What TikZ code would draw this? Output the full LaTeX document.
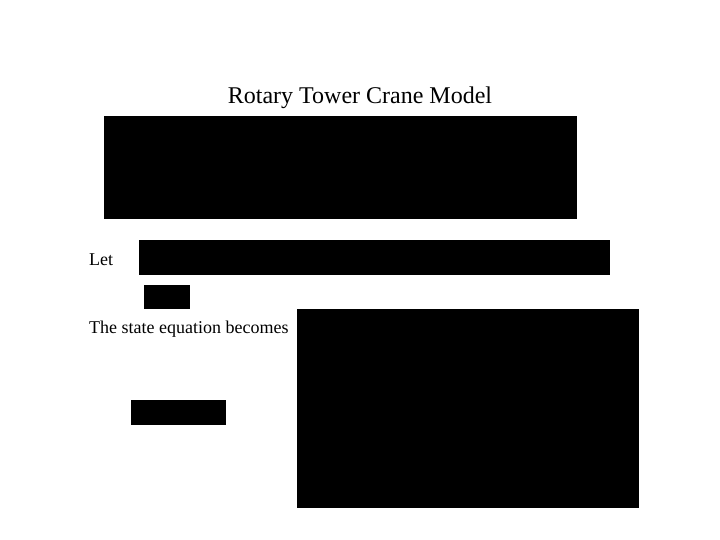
\documentclass[tikz,border=0pt]{standalone}
\usepackage{fontspec}
\setmainfont{Liberation Serif}
\begin{document}
\begin{tikzpicture}[x=1pt,y=-1pt,
  blk/.style={fill=black,draw=none},
  txt/.style={inner sep=0pt,anchor=base west,font=\fontsize{18}{20}\selectfont}]
\useasboundingbox (0,0) rectangle (720,540);
\node[inner sep=0pt,anchor=base,font=\fontsize{24}{26}\selectfont] (title) at (360,104) {Rotary Tower Crane Model};
\fill[blk] (104,116) rectangle (577,219);
\node[txt] (let) at (89,265) {Let};
\fill[blk] (139,240) rectangle (610,275);
\fill[blk] (144,285) rectangle (190,309);
\node[txt] (state) at (89,333) {The state equation becomes};
\fill[blk] (297,309) rectangle (639,508);
\fill[blk] (131,400) rectangle (226,425);
\end{tikzpicture}
\end{document}
